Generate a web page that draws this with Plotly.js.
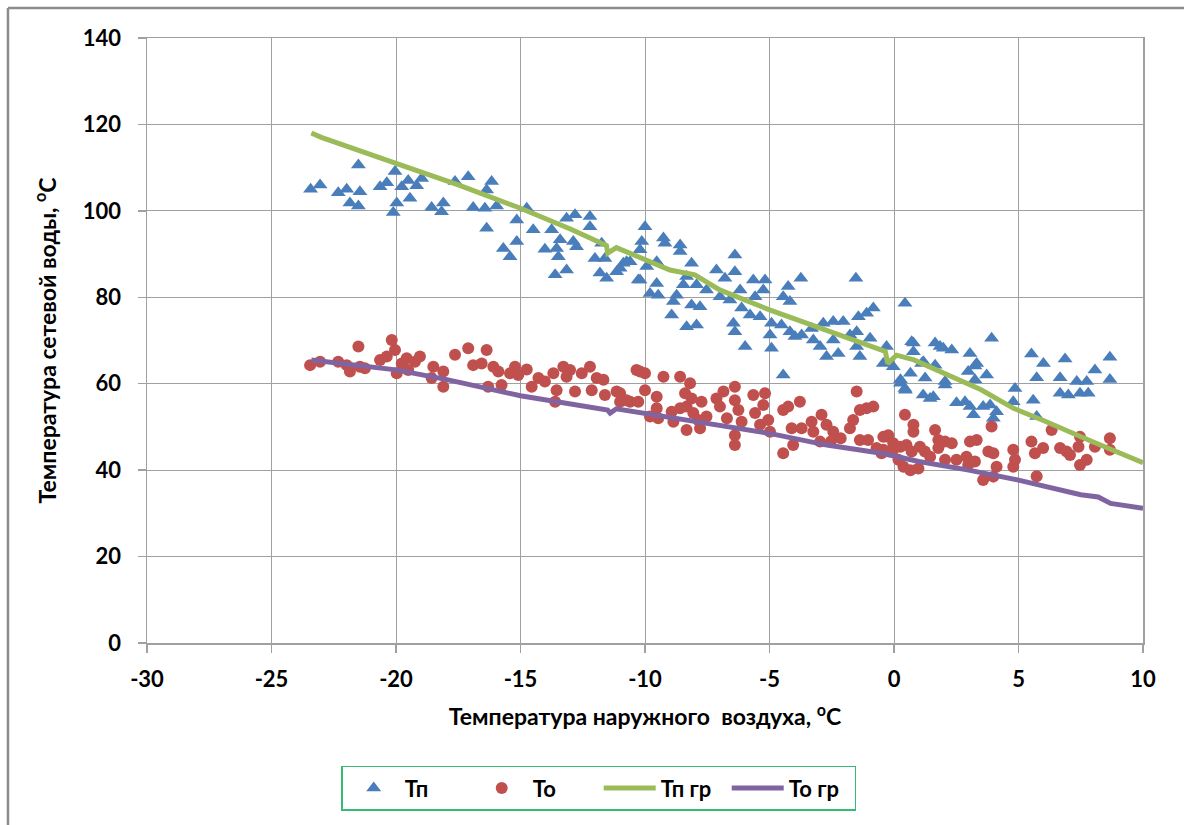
<!DOCTYPE html>
<html>
<head>
<meta charset="utf-8">
<script src="https://cdn.plot.ly/plotly-3.0.1.min.js"></script>
<style>
  html, body { margin: 0; padding: 0; background: #ffffff; }
  #chart { width: 1184px; height: 825px; }
</style>
</head>
<body>
<div id="chart"></div>
<script>
// Measured supply temperature (Tп) vs outdoor air temperature, [x, y]
const tpPoints = [
  [-23.43,105.0],[-23.05,106.0],[-21.51,110.6],[-22.32,104.2],[-21.98,105.0],[-21.85,101.8],[-21.51,101.1],[-21.45,104.4],
  [-20.64,105.6],[-20.37,106.5],[-20.04,109.1],[-19.97,101.8],[-20.11,99.6],[-19.77,105.6],[-19.51,107.0],[-19.44,102.9],
  [-19.17,105.8],[-18.97,107.5],[-18.57,100.8],[-18.1,101.8],[-18.17,99.8],[-17.63,106.8],[-17.1,107.9],[-16.9,100.8],
  [-16.43,100.6],[-16.36,104.8],[-16.16,106.8],[-16.36,96.0],[-15.96,101.1],[-15.69,91.3],[-15.42,89.4],[-15.15,92.9],
  [-15.15,97.9],[-14.75,100.6],[-14.49,95.6],[-14.02,91.1],[-13.75,95.6],[-13.55,91.3],[-13.41,93.3],[-13.48,89.4],
  [-13.61,85.2],[-13.15,86.3],[-13.15,98.3],[-12.81,99.1],[-12.88,92.9],[-12.75,91.7],[-12.21,98.7],[-12.21,96.3],
  [-12.01,89.0],[-11.81,85.6],[-11.54,84.4],[-11.61,89.0],[-11.74,92.5],[-11.14,85.9],[-10.87,87.9],[-10.6,88.2],
  [-10.27,84.0],[-10.0,96.3],[-10.13,92.9],[-10.2,91.0],[-10.74,88.2],[-11.0,86.7],[-9.93,87.1],[-10.2,84.0],
  [-9.53,88.2],[-9.8,80.9],[-9.47,80.5],[-9.53,83.2],[-9.26,93.7],[-9.2,92.5],[-8.59,92.1],[-8.59,90.6],
  [-8.13,87.9],[-8.33,84.8],[-8.46,82.9],[-8.73,80.5],[-8.86,79.0],[-8.13,78.2],[-7.79,77.8],[-8.93,75.9],
  [-8.33,73.2],[-7.93,73.6],[-7.93,82.9],[-7.53,81.7],[-7.13,86.3],[-6.79,84.4],[-6.99,80.1],[-6.39,89.8],
  [-6.39,85.9],[-6.59,79.4],[-6.12,77.5],[-6.45,74.0],[-6.39,72.0],[-5.98,68.6],[-6.18,81.7],[-5.78,75.9],
  [-5.65,84.0],[-5.58,80.1],[-5.38,75.5],[-5.18,84.0],[-5.25,81.7],[-4.92,74.0],[-4.98,71.3],[-4.92,68.2],
  [-4.52,73.6],[-4.45,80.1],[-4.25,82.5],[-4.18,79.0],[-4.18,72.0],[-3.74,84.4],[-3.98,70.9],[-3.71,71.3],
  [-4.45,62.0],[-3.31,72.8],[-3.24,70.1],[-2.97,68.6],[-2.84,74.0],[-2.71,66.3],[-2.44,74.4],[-2.44,70.1],
  [-2.24,67.0],[-2.04,74.4],[-1.77,71.3],[-1.5,72.0],[-1.5,68.6],[-1.37,66.3],[-1.53,84.4],[-1.43,75.5],
  [-1.1,76.3],[-0.83,77.5],[-0.96,70.5],[-0.43,64.7],[-0.3,68.6],[-0.03,63.9],[0.44,78.6],[0.26,60.9],
  [0.44,58.9],[0.66,62.4],[0.78,69.4],[0.78,67.4],[1.11,64.7],[1.25,61.3],[1.65,69.4],[1.85,68.6],
  [2.05,60.5],[2.32,67.8],[3.05,67.0],[2.98,62.8],[3.32,64.7],[1.17,57.4],[1.58,57.0],[5.52,66.9],
  [6.0,64.7],[6.87,65.7],[8.67,66.1],[8.07,63.2],[5.73,61.4],[6.67,61.4],[7.34,60.5],[7.74,60.5],
  [8.67,61.0],[6.67,57.8],[7.0,57.4],[7.47,57.8],[7.8,57.8],[5.59,56.2],[5.73,52.4],[4.86,58.9],
  [4.79,55.8],[3.92,70.5],[3.25,64.1],[3.72,62.0],[3.25,60.9],[1.98,68.2],[1.65,64.3],[1.18,65.1],
  [0.71,69.7],[2.05,59.7],[1.45,56.6],[2.51,55.6],[2.85,55.8],[3.05,54.7],[3.19,52.8],[3.58,54.7],
  [3.86,55.1],[4.12,53.5],[3.99,52.0],[0.26,60.1],[0.46,58.5]
];

// Measured return temperature (То) vs outdoor air temperature, [x, y]
const toPoints = [
  [-23.45,64.3],[-23.05,65.1],[-22.32,65.1],[-21.98,64.3],[-21.85,62.8],[-21.51,68.6],[-21.45,63.9],[-21.25,63.6],
  [-20.64,65.5],[-20.37,66.3],[-20.17,70.1],[-20.04,67.8],[-19.97,62.4],[-19.77,64.7],[-19.57,65.9],[-19.51,63.2],
  [-19.24,65.1],[-19.04,66.3],[-18.5,63.9],[-18.57,61.3],[-18.1,62.8],[-18.1,59.3],[-17.63,66.7],[-17.1,68.2],
  [-16.9,64.3],[-16.56,64.7],[-16.36,67.8],[-16.3,59.3],[-16.09,63.9],[-15.89,62.8],[-15.76,59.7],[-15.42,62.4],
  [-15.22,63.9],[-15.09,62.0],[-14.75,63.3],[-14.55,59.3],[-14.28,61.3],[-14.02,60.5],[-13.68,62.4],[-13.61,55.8],
  [-13.55,58.5],[-13.28,63.9],[-13.15,61.6],[-13.01,63.2],[-12.81,58.2],[-12.54,62.4],[-12.21,63.9],[-12.14,58.5],
  [-11.94,61.3],[-11.67,60.9],[-11.61,57.4],[-11.14,58.2],[-11.0,55.8],[-10.6,55.8],[-10.34,63.2],[-11.0,57.8],
  [-10.74,56.2],[-10.27,55.8],[-10.2,62.8],[-10.0,62.4],[-10.0,58.5],[-9.8,52.4],[-9.53,57.0],[-9.53,54.3],
  [-9.47,52.0],[-9.26,61.6],[-8.93,53.5],[-8.86,51.2],[-8.59,61.6],[-8.59,54.3],[-8.39,57.8],[-8.33,54.7],
  [-8.33,49.3],[-8.19,60.1],[-8.13,56.6],[-8.06,53.2],[-7.86,51.6],[-7.73,55.8],[-7.79,49.7],[-7.53,52.4],
  [-7.13,56.6],[-6.99,54.7],[-6.85,58.2],[-6.71,52.0],[-6.39,59.3],[-6.39,56.2],[-6.39,48.1],[-6.39,45.8],
  [-6.25,53.9],[-6.12,51.2],[-5.65,57.4],[-5.58,53.2],[-5.38,50.5],[-5.18,57.8],[-5.25,55.1],[-5.05,51.6],
  [-4.98,48.9],[-4.45,53.9],[-4.25,54.7],[-4.45,43.9],[-4.05,45.8],[-3.78,55.8],[-4.11,49.7],[-3.71,49.7],
  [-3.24,48.9],[-3.31,51.2],[-2.91,52.8],[-2.71,50.5],[-2.44,48.9],[-2.97,46.6],[-2.54,46.6],[-2.14,47.4],
  [-1.77,49.7],[-1.64,51.6],[-1.5,58.2],[-1.37,53.9],[-1.1,54.3],[-0.83,54.7],[-1.37,47.0],[-1.04,47.0],
  [-0.7,45.1],[-0.3,47.8],[-0.5,43.9],[-0.03,46.2],[0.44,52.8],[0.18,42.4],[0.38,40.8],[0.78,50.5],
  [0.78,48.9],[0.66,40.0],[0.98,40.4],[-0.43,47.7],[-0.23,48.1],[-0.43,44.7],[-0.03,44.7],[0.26,45.4],
  [0.5,45.8],[0.71,44.3],[1.04,45.4],[1.24,44.3],[1.45,43.1],[1.65,49.3],[1.78,47.0],[1.78,45.1],
  [2.05,46.6],[2.32,46.2],[2.05,42.4],[2.51,42.4],[2.91,43.1],[3.05,46.6],[3.32,47.0],[2.98,41.2],
  [3.25,42.0],[3.58,37.7],[3.79,44.3],[3.99,43.9],[3.99,38.5],[4.12,40.8],[3.92,50.1],[4.79,44.7],
  [4.79,40.8],[4.86,42.4],[5.52,46.6],[5.66,43.9],[5.99,45.1],[5.73,38.6],[6.33,49.3],[6.67,45.1],
  [6.93,44.3],[7.07,43.5],[7.41,45.4],[7.47,47.7],[7.47,41.2],[7.74,42.4],[8.07,45.4],[8.67,47.4],
  [8.67,44.7]
];

// Design (schedule) curves
const tpGrX = [-23.4, -23.0, -20.0, -17.5, -15.0, -13.0, -11.55, -11.5, -11.15, -10.0, -9.0, -8.0, -7.0, -5.0, -2.7, -0.35, -0.25, 0.1, 0.8, 2.0, 3.5, 4.8, 6.0, 8.0, 10.0];
const tpGrY = [118.0, 117.0, 111.0, 106.0, 100.6, 95.8, 92.0, 90.2, 91.5, 88.8, 86.3, 85.2, 81.7, 77.1, 72.4, 67.5, 64.7, 66.6, 65.5, 62.5, 58.6, 54.3, 51.5, 46.5, 41.7];
const toGrX = [-23.4, -20.0, -18.0, -15.0, -11.5, -11.4, -11.15, -10.0, -8.0, -5.0, -2.7, -0.5, 1.0, 3.0, 5.0, 6.5, 7.5, 8.2, 8.7, 10.0];
const toGrY = [65.5, 63.2, 61.0, 57.2, 53.9, 53.2, 54.2, 53.1, 51.2, 48.5, 45.8, 43.9, 42.0, 40.0, 37.7, 35.6, 34.3, 33.8, 32.3, 31.2];

const seriesNames = ['Тп', 'То', 'Тп гр', 'То гр'];
const xTicks = [-30, -25, -20, -15, -10, -5, 0, 5, 10];
const xTickText = ['-30', '-25', '-20', '-15', '-10', '-5', '0', '5', '10'];
const yTicks = [0, 20, 40, 60, 80, 100, 120, 140];

const FONT = 'Lato, "Open Sans", sans-serif';

const traces = [
  {
    x: tpPoints.map(p => p[0]), y: tpPoints.map(p => p[1]),
    name: seriesNames[0], type: 'scatter', mode: 'markers',
    marker: { symbol: 'triangle-up', size: 13, color: '#4a7ebb' }
  },
  {
    x: toPoints.map(p => p[0]), y: toPoints.map(p => p[1]),
    name: seriesNames[1], type: 'scatter', mode: 'markers',
    marker: { symbol: 'circle', size: 12, color: '#c0504d' }
  },
  {
    x: tpGrX, y: tpGrY, name: seriesNames[2], type: 'scatter', mode: 'lines',
    line: { color: '#9bbb59', width: 5 }
  },
  {
    x: toGrX, y: toGrY, name: seriesNames[3], type: 'scatter', mode: 'lines',
    line: { color: '#8064a2', width: 5 }
  }
];

const axisCommon = {
  showgrid: true, gridcolor: '#a0a0a0', gridwidth: 1,
  showline: true, linecolor: '#a0a0a0', linewidth: 1.5, mirror: true,
  ticks: 'outside', ticklen: 8, tickcolor: '#a0a0a0', tickwidth: 1.5,
  zeroline: false,
  tickfont: { family: FONT, size: 22, color: '#000000', weight: 'bold' }
};

const layout = {
  width: 1184, height: 825,
  paper_bgcolor: '#ffffff', plot_bgcolor: '#ffffff',
  margin: { l: 147, r: 41, t: 38, b: 182 },
  showlegend: true,
  xaxis: Object.assign({}, axisCommon, {
    range: [-30, 10], tickvals: xTicks, ticktext: xTickText, ticklabelstandoff: 8,
    title: { text: 'Температура наружного  воздуха, <sup>о</sup>С', standoff: 18,
             font: { family: FONT, size: 23, color: '#000000', weight: 'bold' } }
  }),
  yaxis: Object.assign({}, axisCommon, {
    range: [0, 140], tickvals: yTicks, ticklabelstandoff: 12,
    title: { text: 'Температура сетевой воды, <sup>о</sup>С', standoff: 20,
             font: { family: FONT, size: 23, color: '#000000', weight: 'bold' } }
  }),
  legend: {
    orientation: 'h', x: 0.195, xanchor: 'left', y: -0.203, yanchor: 'top',
    bordercolor: '#33bb77', borderwidth: 1.5, bgcolor: '#ffffff',
    font: { family: FONT, size: 22, color: '#000000', weight: 'bold' },
    itemwidth: 52, entrywidth: 61, traceorder: 'normal'
  },
  shapes: [
    // frame around the chart area
    { type: 'line', xref: 'paper', yref: 'paper', x0: -0.1396, x1: -0.1396, y0: 1.0496, y1: -0.35,
      line: { color: '#8c8c8c', width: 2.5 } },
    { type: 'line', xref: 'paper', yref: 'paper', x0: -0.1396, x1: 1.1, y0: 1.0496, y1: 1.0496,
      line: { color: '#8c8c8c', width: 2.5 } }
  ]
};

Plotly.newPlot('chart', traces, layout, { displayModeBar: false, staticPlot: true });
</script>
</body>
</html>
